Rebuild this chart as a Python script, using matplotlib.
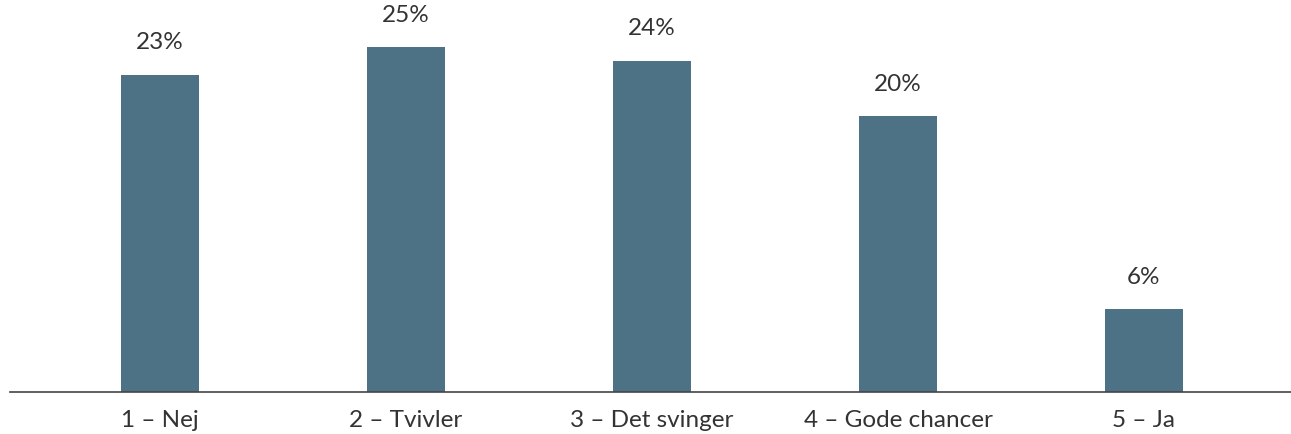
import matplotlib.pyplot as plt

categories = ['1 – Nej', '2 – Tvivler', '3 – Det svinger', '4 – Gode chancer', '5 – Ja']
values = [23, 25, 24, 20, 6]

bar_color = '#4e7285'
text_color = '#333333'

plt.rcParams['font.family'] = ['Lato', 'DejaVu Sans']

fig = plt.figure(figsize=(12.91, 4.34), dpi=100)
ax = fig.add_axes([10 / 1291, 42 / 434, 1281 / 1291, 386 / 434])

x = list(range(len(categories)))
ax.bar(x, values, width=0.317, color=bar_color, zorder=2)

for xi, v in zip(x, values):
    ax.annotate('{}%'.format(v), (xi, v), xytext=(0, 18.5), textcoords='offset points',
                ha='center', va='baseline', fontsize=17.5, color=text_color)

ax.set_xlim(-0.61, 4.598)
ax.set_ylim(0, 28)
ax.set_xticks(x)
ax.set_xticklabels(categories, fontsize=17.5, color=text_color)
ax.tick_params(axis='x', length=0, pad=13)
ax.set_yticks([])

for side in ['top', 'right', 'left']:
    ax.spines[side].set_visible(False)
ax.spines['bottom'].set_color('#444444')
ax.spines['bottom'].set_linewidth(1.2)

fig.savefig('out.png', dpi=100)
